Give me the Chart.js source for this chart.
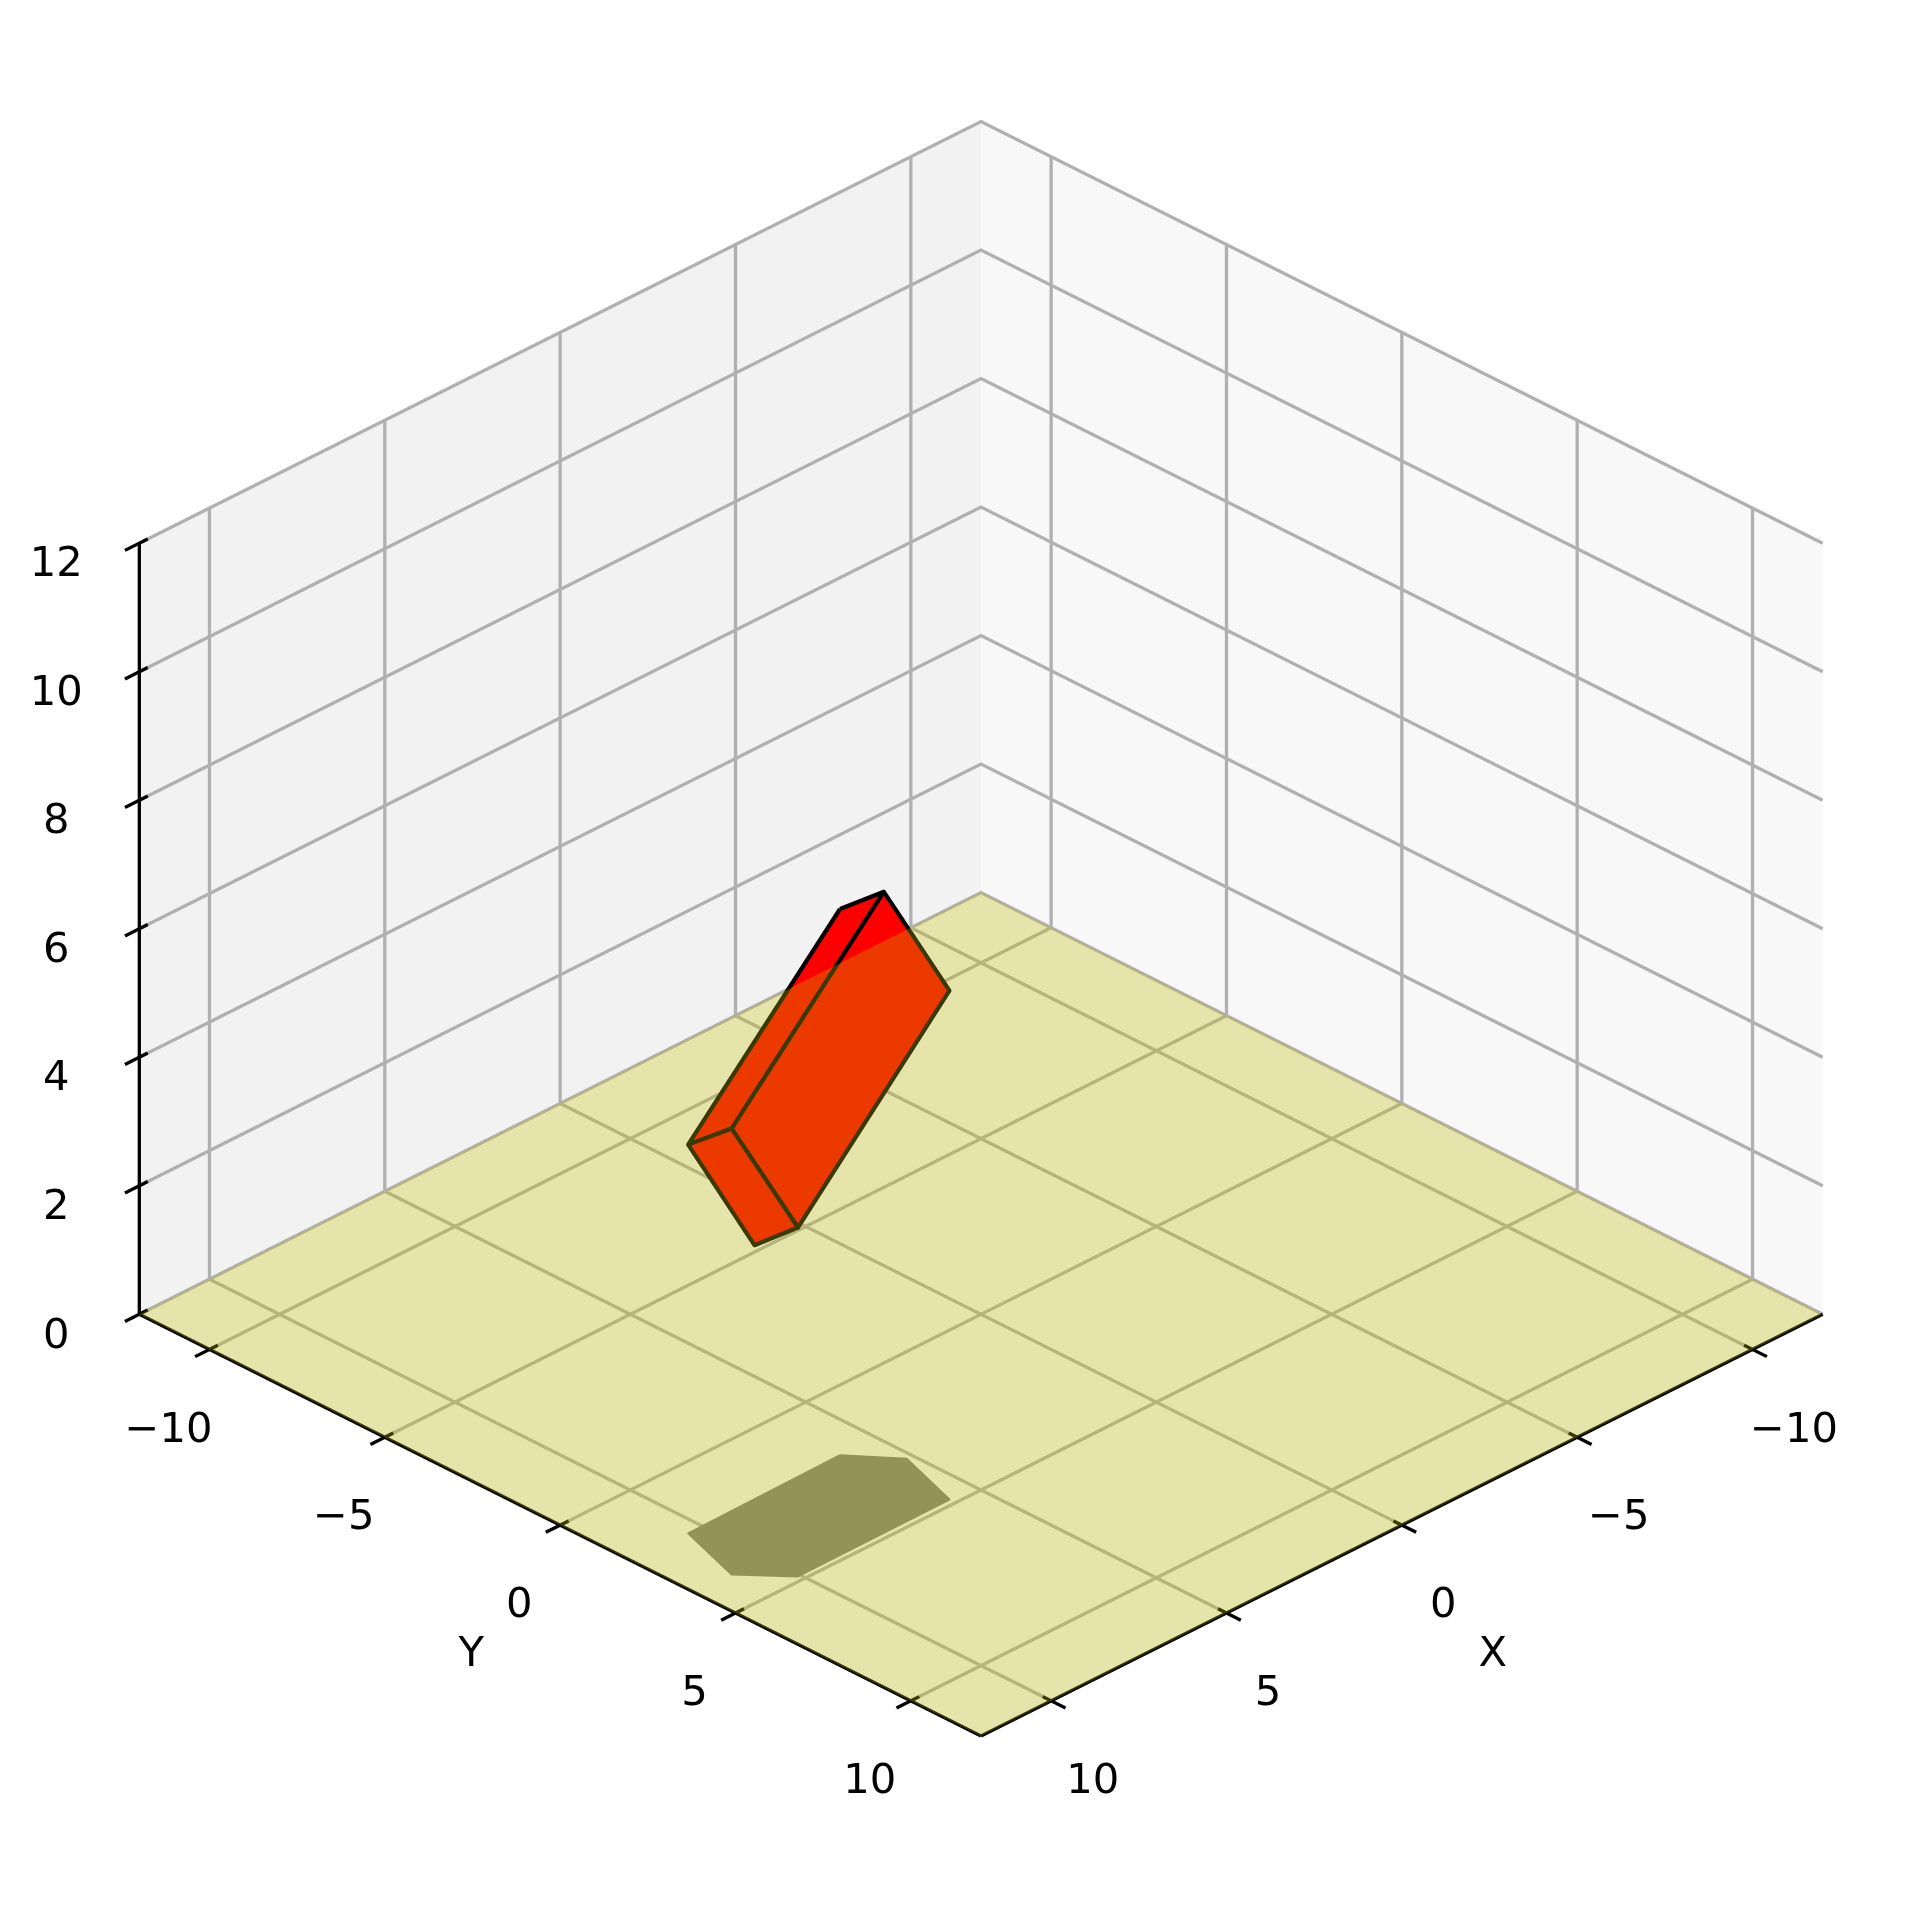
<!DOCTYPE html>
<html>
<head>
<meta charset="utf-8">
<style>
  body { margin: 0; background: #fff; }
  canvas { display: block; }
</style>
<script src="https://cdn.jsdelivr.net/npm/chart.js@4/dist/chart.umd.js"></script>
</head>
<body>
<canvas id="chart01" width="1910" height="1907"></canvas>
<script>
// axis limits and ticks
const axisMin = -12;
const axisMax = 12;
const zMax = 12;
const xTicks = [-10, -5, 0, 5, 10];
const yTicks = [-10, -5, 0, 5, 10];
const zTicks = [0, 2, 4, 6, 8, 10, 12];
const xTickLabels = ["\u221210", "\u22125", "0", "5", "10"];
const yTickLabels = ["\u221210", "\u22125", "0", "5", "10"];
const zTickLabels = ["0", "2", "4", "6", "8", "10", "12"];

// the box corners (A, B, C, D, E, F, G, H)
const boxX = [6.02, 6.57, 5.72, 10.07, 9.53, 10.41, 10.96, 5.17];
const boxY = [2.0, 3.8, 4.82, 4.85, 3.07, 2.06, 3.85, 3.05];
const boxZ = [8.5, 9.41, 7.92, 5.43, 4.52, 6.05, 6.94, 7.01];
const boxFaces = [[0, 1, 6, 5], [1, 2, 3, 6], [5, 6, 3, 4]];
const shadowOutline = [0, 7, 2, 3, 6, 5];

// view: the plot is an orthographic projection, so x and y scales are flat
const centerPx = 981;
const floorMidPx = 1314.3;
const unitPx = 35.07;
const zPx = 64.26;
const width = 1910;
const height = 1907;

function project(x, y, z) {
  return { x: y - x, y: -(x + y) / 2 + (z * zPx) / (2 * 17.57) };
}

function line(points, color, lw, extra) {
  return Object.assign(
    {
      data: points.map((p) => project(p[0], p[1], p[2])),
      showLine: true,
      borderColor: color,
      borderWidth: lw,
      pointRadius: 0,
      fill: false,
      tension: 0,
      borderCapStyle: "butt",
      borderJoinStyle: "miter",
    },
    extra || {}
  );
}

function shape(points, fillColor, edgeColor, lw, joinStyle) {
  return line(points.concat([points[0]]), edgeColor, lw, {
    fill: "shape",
    backgroundColor: fillColor,
    borderJoinStyle: joinStyle || "miter",
  });
}

// listed bottom layer first
const layers = [];
layers.push(shape([[axisMax, axisMin, 0], [axisMin, axisMin, 0], [axisMin, axisMin, zMax], [axisMax, axisMin, zMax]], "#f2f2f2", "rgba(0,0,0,0)", 0));
layers.push(shape([[axisMin, axisMin, 0], [axisMin, axisMax, 0], [axisMin, axisMax, zMax], [axisMin, axisMin, zMax]], "#f8f8f8", "rgba(0,0,0,0)", 0));
layers.push(shape([[axisMin, axisMin, 0], [axisMin, axisMax, 0], [axisMax, axisMax, 0], [axisMax, axisMin, 0]], "#f5f5f5", "rgba(0,0,0,0)", 0));

const gridColor = "#b0b0b0";
const gridWidth = 3.3;
xTicks.forEach((t) => layers.push(line([[t, axisMax, 0], [t, axisMin, 0], [t, axisMin, zMax]], gridColor, gridWidth)));
yTicks.forEach((t) => layers.push(line([[axisMax, t, 0], [axisMin, t, 0], [axisMin, t, zMax]], gridColor, gridWidth)));
zTicks.forEach((t) => layers.push(line([[axisMax, axisMin, t], [axisMin, axisMin, t], [axisMin, axisMax, t]], gridColor, gridWidth)));

// axis lines and tick marks
const tickOut = 0.41;
const tickIn = 0.24;
const axisWidth = 3.3;
layers.push(line([[axisMin, axisMax, 0], [axisMax, axisMax, 0]], "#000", axisWidth));
layers.push(line([[axisMax, axisMin, 0], [axisMax, axisMax, 0]], "#000", axisWidth));
layers.push(line([[axisMax, axisMin, 0], [axisMax, axisMin, zMax]], "#000", axisWidth));
xTicks.forEach((t) => layers.push(line([[t, axisMax + tickOut, 0], [t, axisMax - tickIn, 0]], "#000", axisWidth)));
yTicks.forEach((t) => layers.push(line([[axisMax + tickOut, t, 0], [axisMax - tickIn, t, 0]], "#000", axisWidth)));
zTicks.forEach((t) => layers.push(line([[axisMax + tickOut, axisMin, t], [axisMax - tickIn, axisMin, t]], "#000", axisWidth)));

// shadow on the floor
layers.push(shape(shadowOutline.map((i) => [boxX[i], boxY[i], 0]), "#808080", "#808080", 2, "round"));

// box
boxFaces.forEach((face) => {
  layers.push(shape(face.map((i) => [boxX[i], boxY[i], boxZ[i]]), "#ff0000", "#000", 4.17, "round"));
});

// translucent floor lies over everything
layers.push(shape([[axisMin, axisMin, 0], [axisMin, axisMax, 0], [axisMax, axisMax, 0], [axisMax, axisMin, 0]], "rgba(190,190,0,0.3)", "rgba(0,0,0,0)", 0));

const tickText = {
  id: "tickText",
  afterDraw(chart) {
    const ctx = chart.ctx;
    const sx = chart.scales.x;
    const sy = chart.scales.y;
    const put = (text, x, y, z, dx, dy) => {
      const p = project(x, y, z);
      ctx.fillText(text, sx.getPixelForValue(p.x) + dx, sy.getPixelForValue(p.y) + dy + 15.2);
    };
    ctx.save();
    ctx.fillStyle = "#000";
    ctx.textAlign = "center";
    ctx.textBaseline = "alphabetic";
    ctx.font = '41.67px "DejaVu Sans"';
    xTicks.forEach((t, i) => put(xTickLabels[i], t, axisMax, 0, 41.5, 77));
    yTicks.forEach((t, i) => put(yTickLabels[i], axisMax, t, 0, -41, 77));
    zTicks.forEach((t, i) => put(zTickLabels[i], axisMax, axisMin, t, -83, 18));
    put("X", 0, axisMax, 0, 91, 126);
    put("Y", axisMax, 0, 0, -89, 126);
    ctx.restore();
  },
};

new Chart(document.getElementById("chart01").getContext("2d"), {
  type: "scatter",
  data: { datasets: layers.map((d, i) => Object.assign(d, { order: layers.length - i })) },
  plugins: [tickText],
  options: {
    responsive: false,
    animation: false,
    devicePixelRatio: 1,
    events: [],
    layout: { padding: 0 },
    scales: {
      x: { type: "linear", display: false, min: -centerPx / unitPx, max: (width - centerPx) / unitPx },
      y: { type: "linear", display: false, min: (floorMidPx - height) / (2 * 17.57), max: floorMidPx / (2 * 17.57) },
    },
    plugins: {
      legend: { display: false },
      tooltip: { enabled: false },
      filler: { drawTime: "beforeDatasetDraw" },
    },
  },
});
</script>
</body>
</html>
